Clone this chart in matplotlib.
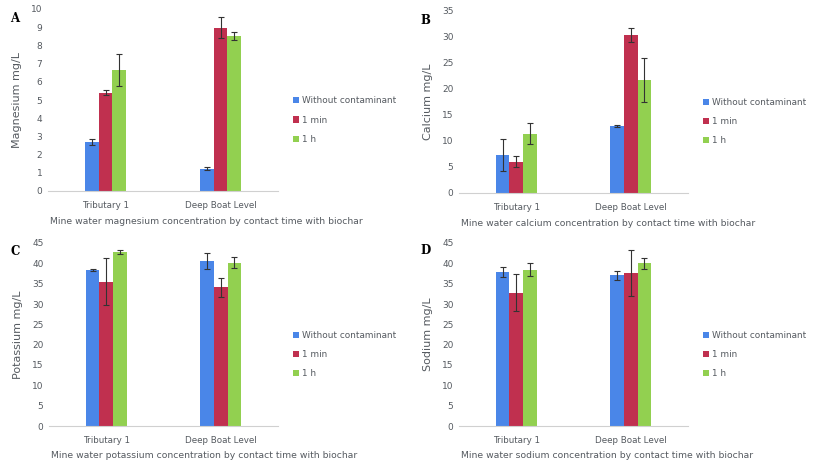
import matplotlib.pyplot as plt
import numpy as np

W, H = 813, 467

sites = ["Tributary 1", "Deep Boat Level"]
series = ["Without contaminant", "1 min", "1 h"]
colors = ["#4a86e8", "#c0304f", "#92d050"]

mg_vals = [[2.7, 1.22], [5.4, 8.98], [6.65, 8.5]]
mg_err = [[0.15, 0.08], [0.15, 0.6], [0.9, 0.22]]

ca_vals = [[7.3, 12.8], [6.0, 30.2], [11.3, 21.7]]
ca_err = [[3.1, 0.15], [1.0, 1.4], [2.0, 4.2]]

k_vals = [[38.4, 40.6], [35.5, 34.1], [42.8, 40.2]]
k_err = [[0.2, 2.0], [5.8, 2.3], [0.6, 1.3]]

na_vals = [[37.8, 37.1], [32.8, 37.7], [38.4, 40.0]]
na_err = [[1.2, 1.1], [4.5, 5.7], [1.6, 1.3]]

TXT = "#555a60"

panels = [
    # letter, vals, err, ylabel, ymax, step, caption, axis box (px: left, right, bottom, top), letter pos
    ("A", mg_vals, mg_err, "Magnesium mg/L", 10, 1,
     "Mine water magnesium concentration by contact time with biochar", (48, 278, 191, 9), (10, 18)),
    ("B", ca_vals, ca_err, "Calcium mg/L", 35, 5,
     "Mine water calcium concentration by contact time with biochar", (459, 688, 193, 10), (420, 20)),
    ("C", k_vals, k_err, "Potassium mg/L", 45, 5,
     "Mine water potassium concentration by contact time with biochar", (49, 278, 426, 243), (10, 252)),
    ("D", na_vals, na_err, "Sodium mg/L", 45, 5,
     "Mine water sodium concentration by contact time with biochar", (459, 688, 426, 243), (420, 251)),
]

fig = plt.figure(figsize=(W / 100, H / 100), dpi=100)

for letter, vals, err, ylabel, ymax, step, caption, box, lpos in panels:
    l, r, b, t = box
    ax = fig.add_axes([l / W, 1 - b / H, (r - l) / W, (b - t) / H])
    x = np.arange(len(sites))
    bw = 0.12
    for i, name in enumerate(series):
        ax.bar(x + (i - 1) * bw, vals[i], bw, yerr=err[i], color=colors[i],
               label=name, capsize=2.5, error_kw=dict(ecolor="#333333", elinewidth=0.8, capthick=0.8))
    ax.set_xlim(-0.5, 1.5)
    ax.set_ylim(0, ymax)
    ax.set_yticks(np.arange(0, ymax + step / 2, step))
    ax.set_xticks(x)
    ax.set_xticklabels(sites)
    for s in ["top", "right", "left"]:
        ax.spines[s].set_visible(False)
    ax.spines["bottom"].set_color("#d0d0d0")
    ax.tick_params(axis="x", length=0, labelsize=6.3, colors=TXT, pad=7)
    ax.tick_params(axis="y", length=0, labelsize=6.5, colors=TXT, pad=4)
    ax.set_ylabel(ylabel, fontsize=8, color=TXT)
    ax.yaxis.set_label_coords(-26 / (r - l), 0.5)
    ax.set_xlabel(caption, fontsize=6.7, color=TXT)
    ax.xaxis.label.set_horizontalalignment("left")
    ax.xaxis.set_label_coords(0.008, -30 / (b - t))
    ax.xaxis.label.set_verticalalignment("center")
    ax.legend(loc="center left", bbox_to_anchor=(1.065, 0.39), frameon=False, fontsize=6.4,
              labelcolor=TXT, handlelength=0.7, handleheight=0.7, handletextpad=0.35,
              labelspacing=1.15, borderaxespad=0, borderpad=0)
    fig.text(lpos[0] / W, 1 - lpos[1] / H, letter, fontsize=8.5, fontweight="bold",
             family="DejaVu Serif", va="center", ha="left")

fig.savefig("out.png", dpi=100)
